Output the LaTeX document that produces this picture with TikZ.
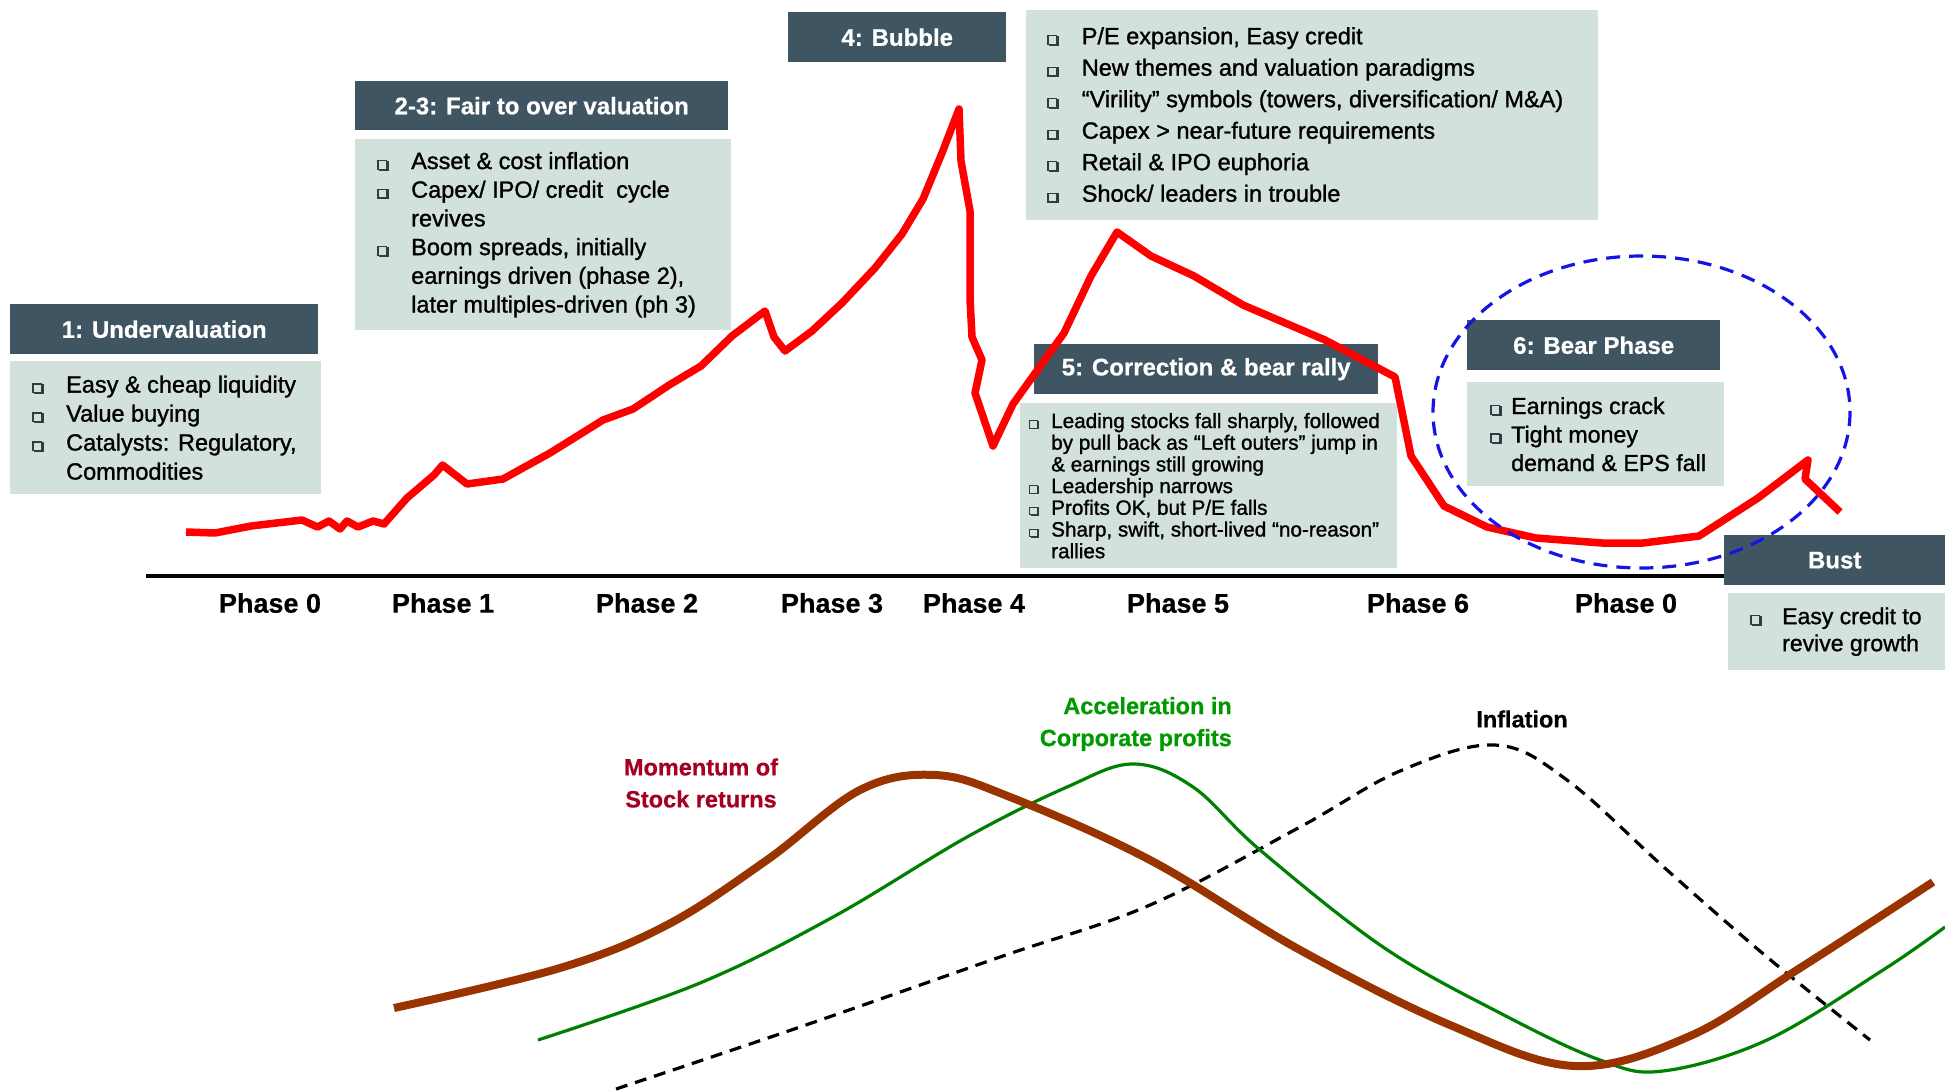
\documentclass[tikz,border=0pt]{standalone}
\usepackage{fontspec}
\setmainfont{Liberation Sans}[BoldFeatures={FakeBold=0.6}]
\newfontfamily\bodyfnt{Liberation Sans}[FakeBold=1.2]
\definecolor{hdrc}{HTML}{3F5561}
\definecolor{bodyc}{HTML}{D3E1DC}
\definecolor{bulc}{HTML}{333B40}
\definecolor{curvered}{HTML}{FF0000}
\definecolor{momc}{HTML}{993300}
\definecolor{profc}{HTML}{008000}
\definecolor{proflab}{HTML}{009900}
\definecolor{momlab}{HTML}{A50021}
\definecolor{ellc}{HTML}{1414E6}
\newcommand\bulbig{{\setlength{\fboxsep}{0pt}\setlength{\fboxrule}{1.3pt}\raisebox{0.5pt}{\rlap{\hspace{2pt}\raisebox{-2pt}{\color{bulc}\rule{10pt}{10pt}}}\fcolorbox{bulc}{bodyc}{\rule{0pt}{7.4pt}\rule{7.4pt}{0pt}}}}}
\newcommand\bulsmall{{\setlength{\fboxsep}{0pt}\setlength{\fboxrule}{1.1pt}\raisebox{0.5pt}{\rlap{\hspace{1.6pt}\raisebox{-1.6pt}{\color{bulc}\rule{8.5pt}{8.5pt}}}\fcolorbox{bulc}{bodyc}{\rule{0pt}{6.3pt}\rule{6.3pt}{0pt}}}}}
\newcommand\itm[2][34pt]{\makebox[#1][l]{\bulbig}#2}
\newcommand\itms[2][22pt]{\makebox[#1][l]{\bulsmall}#2}
\newcommand\cont[2][34pt]{\hspace*{#1}#2}
\begin{document}
\begin{tikzpicture}[x=1pt,y=-1pt,
  hdr/.style={fill=hdrc,text=white,font=\fontsize{24}{29}\selectfont\bfseries,inner sep=0pt,anchor=north west},
  bodybox/.style={fill=bodyc,inner sep=0pt,anchor=north west},
  btext/.style={anchor=west,inner sep=0pt,align=left,text=black},
  phase/.style={font=\fontsize{27}{32}\selectfont\bfseries,inner sep=0pt},
  redline/.style={draw=curvered,line width=7.5pt,line join=round},
  momline/.style={draw=momc,line width=8pt},
  profline/.style={draw=profc,line width=3.2pt},
  inflline/.style={draw=black,line width=3.2pt,dash pattern=on 12pt off 8pt},
  lab/.style={font=\fontsize{23.5}{32}\selectfont\bfseries,inner sep=0pt}]
\useasboundingbox[fill=white] (0,0) rectangle (1945,1090);

% ---- boxes ----
\node[hdr,minimum width=308pt,minimum height=50pt] (h1) at (10,304) {1: Undervaluation};
\node[bodybox,minimum width=311pt,minimum height=133pt] (b1) at (10,361) {};
\node[btext,font=\bodyfnt\fontsize{23.5}{29}\selectfont] (t1) at ([xshift=22pt]b1.west) {\itm{Easy \& cheap liquidity}\\ \itm{Value buying}\\ \itm{Catalysts: Regulatory,}\\ \cont{Commodities}};

\node[hdr,minimum width=373pt,minimum height=49pt] (h2) at (355,81) {2-3: Fair to over valuation};
\node[bodybox,minimum width=376pt,minimum height=191pt] (b2) at (355,139) {};
\node[btext,font=\bodyfnt\fontsize{23.5}{28.7}\selectfont] (t2) at ([xshift=22pt]b2.west) {\itm{Asset \& cost inflation}\\ \itm{Capex/ IPO/ credit\ \ cycle}\\ \cont{revives}\\ \itm{Boom spreads, initially}\\ \cont{earnings driven (phase 2),}\\ \cont{later multiples-driven (ph 3)}};

\node[hdr,minimum width=218pt,minimum height=50pt] (h4) at (788,12) {4: Bubble};
\node[bodybox,minimum width=572pt,minimum height=210pt] (b4) at (1026,10) {};
\node[btext,font=\bodyfnt\fontsize{23.5}{31.5}\selectfont] (t4) at ([xshift=21pt]b4.west) {\itm[34.6pt]{P/E expansion, Easy credit}\\ \itm[34.6pt]{New themes and valuation paradigms}\\ \itm[34.6pt]{“Virility” symbols (towers, diversification/ M\&A)}\\ \itm[34.6pt]{Capex > near-future requirements}\\ \itm[34.6pt]{Retail \& IPO euphoria}\\ \itm[34.6pt]{Shock/ leaders in trouble}};

\node[hdr,minimum width=344pt,minimum height=50pt] (h5) at (1034,344) {5: Correction \& bear rally};
\node[bodybox,minimum width=377pt,minimum height=165pt] (b5) at (1020,403) {};
\node[btext,font=\bodyfnt\fontsize{20.7}{21.7}\selectfont] (t5) at ([xshift=9pt]b5.west) {\itms{Leading stocks fall sharply, followed}\\ \cont[22pt]{by pull back as “Left outers” jump in}\\ \cont[22pt]{\& earnings still growing}\\ \itms{Leadership narrows}\\ \itms{Profits OK, but P/E falls}\\ \itms{Sharp, swift, short-lived “no-reason”}\\ \cont[22pt]{rallies}};

\node[hdr,minimum width=253pt,minimum height=50pt] (h6) at (1467,320) {6: Bear Phase};
\node[bodybox,minimum width=257pt,minimum height=104pt] (b6) at (1467,382) {};
\node[btext,font=\bodyfnt\fontsize{23.2}{28.5}\selectfont] (t6) at ([xshift=23pt]b6.west) {\itm[21pt]{Earnings crack}\\ \itm[21pt]{Tight money}\\ \cont[21pt]{demand \& EPS fall}};

\node[hdr,minimum width=221pt,minimum height=50pt] (h7) at (1724,535) {Bust};
\node[bodybox,minimum width=217pt,minimum height=77pt] (b7) at (1728,593) {};
\node[btext,font=\bodyfnt\fontsize{23}{27}\selectfont] (t7) at ([xshift=22pt]b7.west) {\itm[32pt]{Easy credit to}\\ \cont[32pt]{revive growth}};

% ---- axis ----
\coordinate (ax0) at (146,575.5);
\coordinate (ax1) at (1724,575.5);
\draw[line width=4pt,black] (ax0) -- (ax1);

% ---- phase labels ----
\node[phase] (p0) at (270,603) {Phase 0};
\node[phase] (p1) at (443,603) {Phase 1};
\node[phase] (p2) at (647,603) {Phase 2};
\node[phase] (p3) at (832,603) {Phase 3};
\node[phase] (p4) at (974,603) {Phase 4};
\node[phase] (p5) at (1178,603) {Phase 5};
\node[phase] (p6) at (1418,603) {Phase 6};
\node[phase] (p0b) at (1626,603) {Phase 0};

% ---- red index curve ----
\draw[redline] plot coordinates {(186,532) (215,533) (251,526) (302,520) (317.5,527) (329,521) (340,529) (347,521) (358,527) (373,521) (384,524) (407,498) (434,475) (442.5,465) (467,484) (503,479) (550,453) (603,420) (633,409) (670,384.5) (701,366) (732,336) (765,311) (774,337) (785,351) (812,331) (842,303) (875,268) (902,234) (923,199) (942,153) (959,109) (961,161) (970,211) (970,299) (972,337) (982,360) (975,393) (993,446) (1013,404) (1064,333) (1091,276) (1117,232) (1151,256) (1194,276) (1243,305) (1325,340) (1395,377) (1411,456) (1444,506) (1487,527) (1536,538) (1602,543) (1643,543) (1699,536) (1758,498) (1808,460) (1805,479) (1840,512)};

% ---- dashed ellipse ----
\draw[ellc,line width=3.2pt,dash pattern=on 14pt off 9pt] (1641.5,412) ellipse [x radius=208.5, y radius=156];

% ---- lower cycle curves ----
\draw[inflline] plot[smooth,tension=0.6] coordinates {(616,1089) (800,1027) (1000,957) (1150,905) (1300,827) (1400,771) (1495,745) (1567,780) (1667,870) (1767,957) (1870,1040)};
\draw[profline] plot[smooth,tension=0.6] coordinates {(538,1040) (700,983) (833,917) (967,837) (1067,787) (1133,764) (1193,787) (1260,850) (1383,947) (1500,1013) (1600,1060) (1663,1071) (1767,1040) (1883,970) (1945,927)};
\draw[momline] plot[smooth,tension=0.6] coordinates {(394,1008) (560,968) (667,925) (767,860) (860,790) (935,775) (1010,797) (1150,860) (1300,950) (1450,1025) (1575,1066) (1690,1036) (1800,968) (1933,882)};

% ---- curve labels ----
\node[lab,text=momlab,align=center] (lmom) at (701,783) {Momentum of\\Stock returns};
\node[lab,text=proflab,align=right,anchor=east] (lprof) at (1232,724) {Acceleration in\\Corporate profits};
\node[lab,text=black] (linf) at (1522,719) {Inflation};
\end{tikzpicture}
\end{document}
